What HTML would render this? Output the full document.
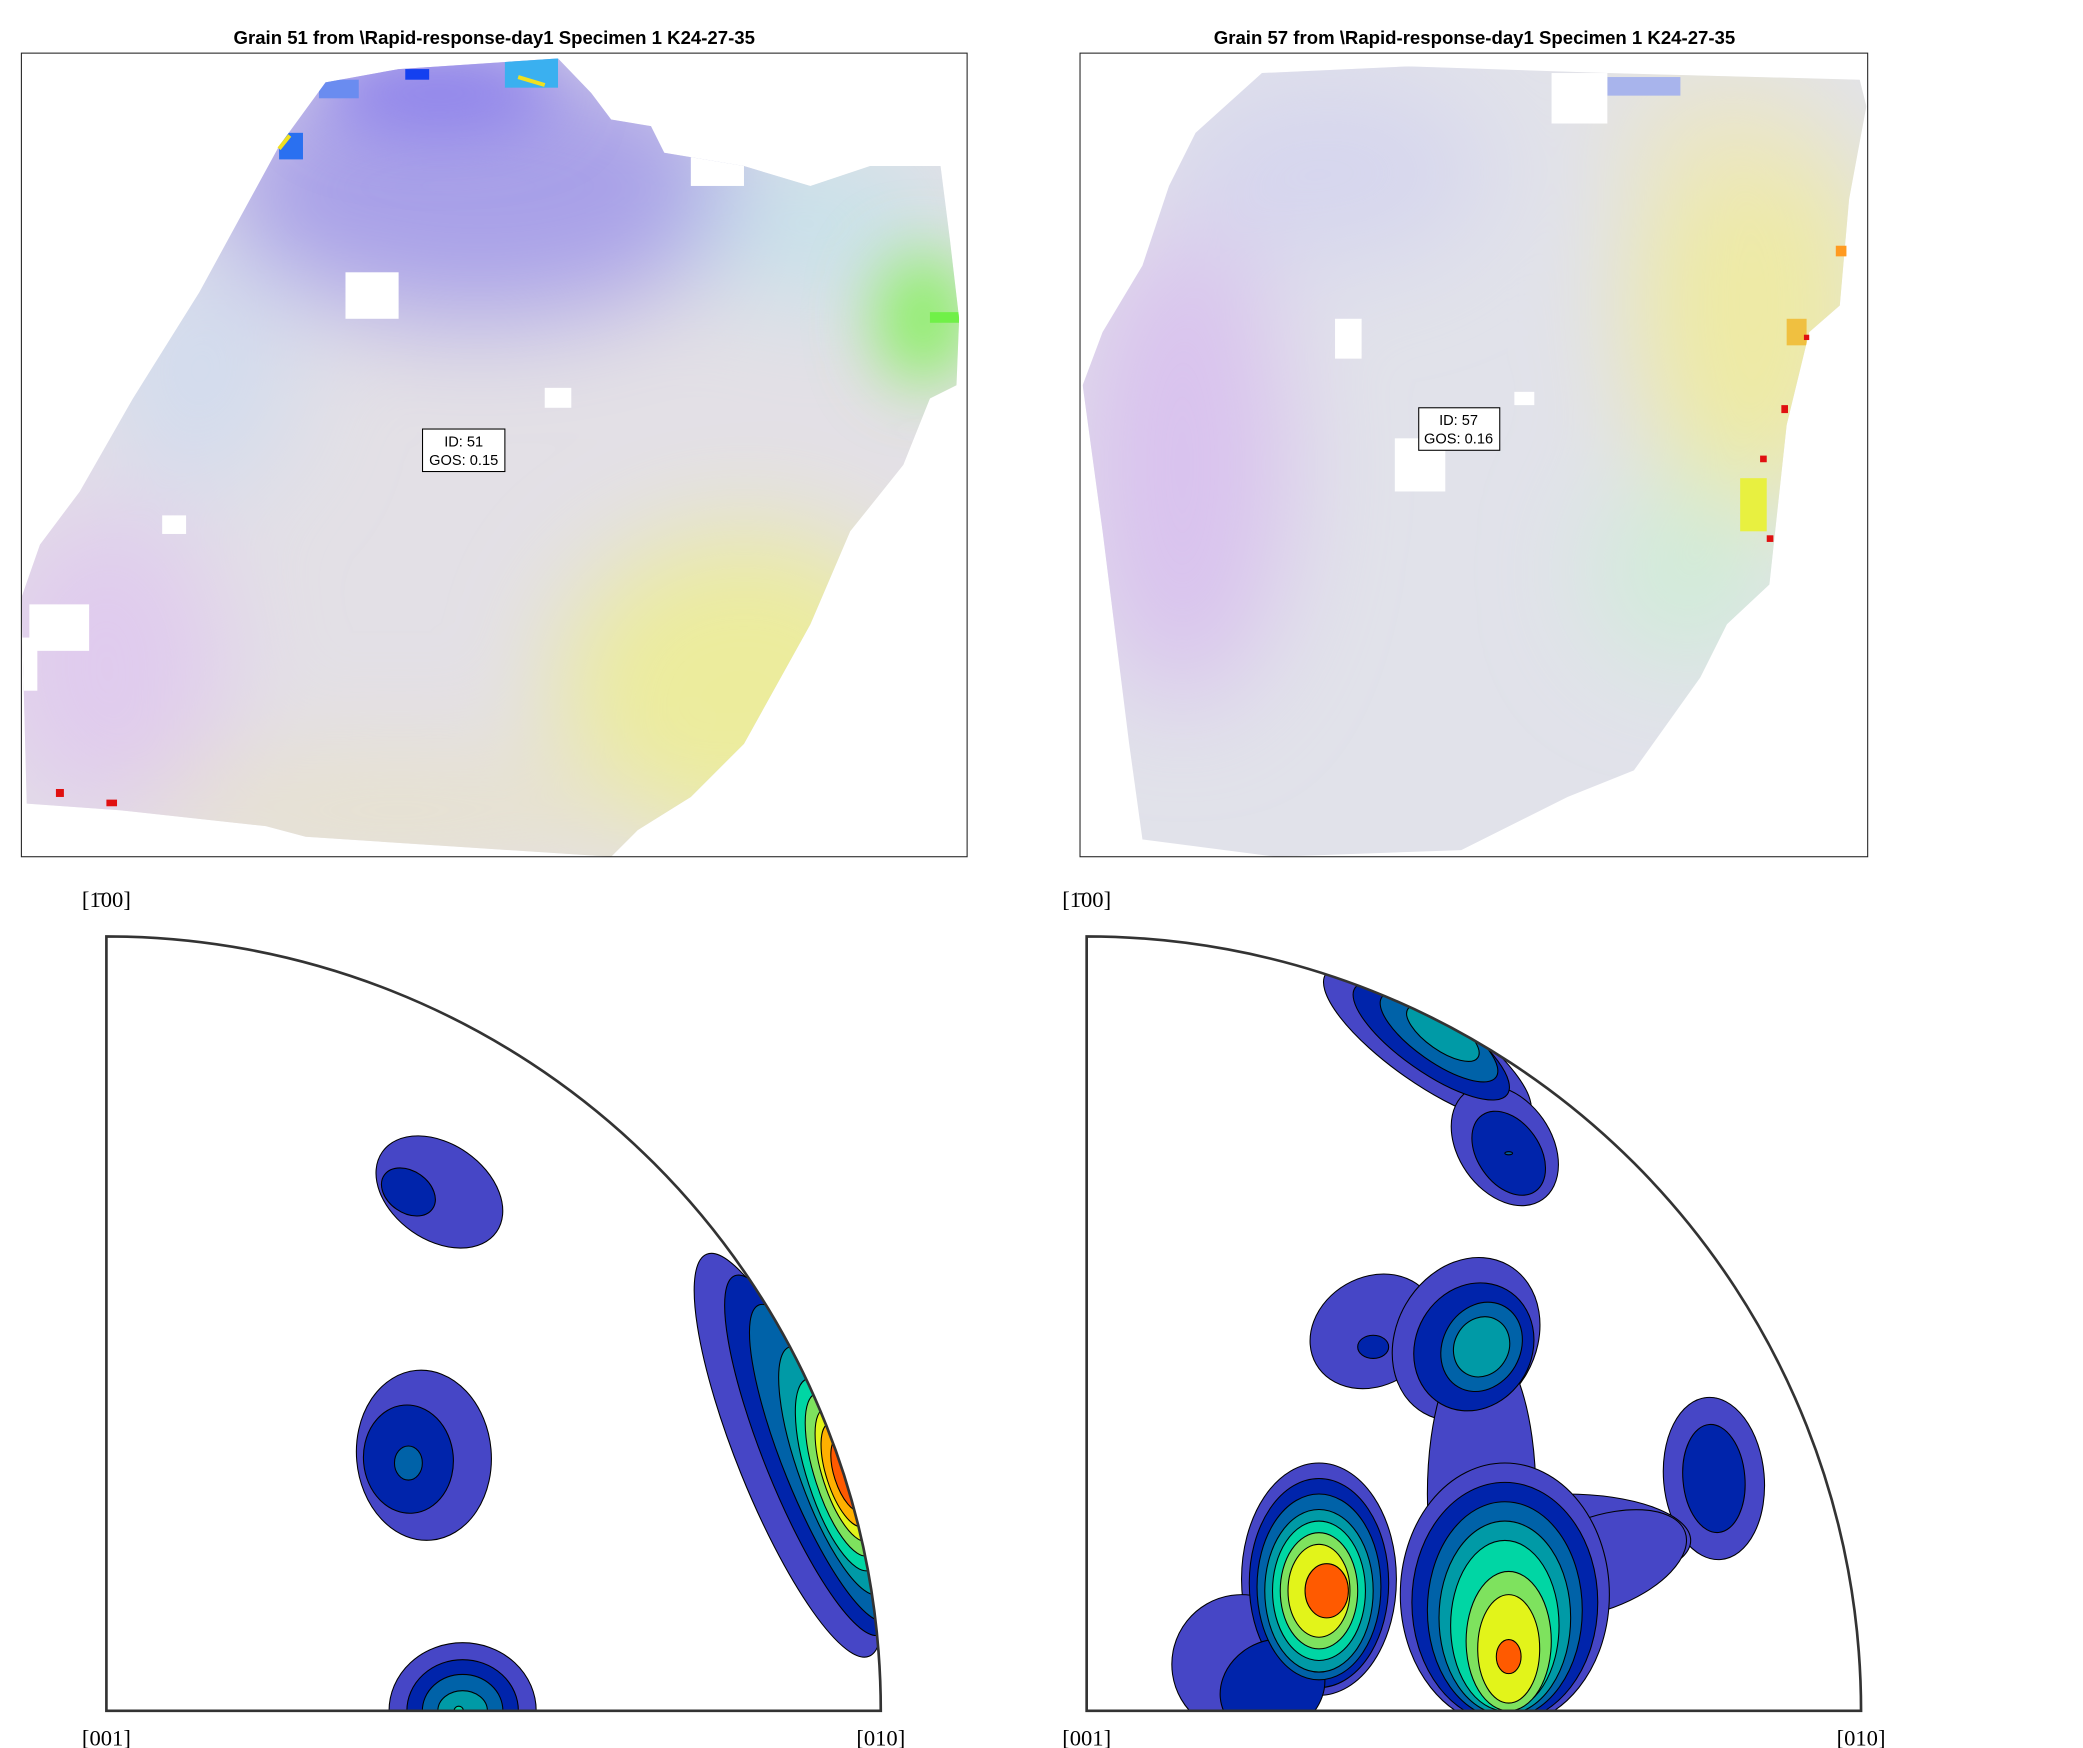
<!DOCTYPE html>
<html><head><meta charset="utf-8">
<style>
html,body{margin:0;padding:0;background:#fff;}
svg{display:block;}
text{font-family:"Liberation Sans",sans-serif;}
.ser{font-family:"Liberation Serif",serif;font-size:17px;}
</style></head>
<body>
<svg id="fig" width="2083" height="1748" viewBox="0 0 1568 1316" xmlns="http://www.w3.org/2000/svg">
<defs>
  <clipPath id="clipL"><polygon points="245,62 300,52 420,44 445,70 460,90 490,95 500,115 560,125 610,140 655,125 708,125 715,180 722,240 720,290 700,300 680,350 640,400 610,470 560,560 520,600 480,625 460,645 230,630 200,622 90,610 20,605 16,450 30,410 60,370 100,300 150,220 180,165 210,110"/></clipPath>
  <clipPath id="clipR"><polygon points="900,100 950,55 1060,50 1210,55 1400,60 1405,80 1392,150 1385,230 1362,250 1345,320 1332,440 1300,470 1280,510 1230,580 1180,600 1100,640 960,645 860,632 850,560 830,400 815,290 830,250 860,200 880,140"/></clipPath>
  <filter id="blur" x="-50%" y="-50%" width="200%" height="200%"><feGaussianBlur stdDeviation="40"/></filter>
  <filter id="blur2" x="-50%" y="-50%" width="200%" height="200%"><feGaussianBlur stdDeviation="25"/></filter>
</defs>

<text x="372" y="33" font-size="14" font-weight="bold" text-anchor="middle">Grain 51 from \Rapid-response-day1 Specimen 1 K24-27-35</text>
<text x="1110" y="33" font-size="14" font-weight="bold" text-anchor="middle">Grain 57 from \Rapid-response-day1 Specimen 1 K24-27-35</text>

<g>
  <g clip-path="url(#clipL)">
    <rect x="0" y="40" width="740" height="610" fill="#e3e0e6"/>
    <g filter="url(#blur)">
      <ellipse cx="360" cy="140" rx="200" ry="100" fill="#a8a0e8"/>
      <ellipse cx="560" cy="520" rx="140" ry="120" fill="#ecec9c"/>
      <ellipse cx="80" cy="500" rx="90" ry="120" fill="#e0cbee"/>
      <ellipse cx="620" cy="170" rx="90" ry="60" fill="#c8e2ea"/>
      <ellipse cx="150" cy="280" rx="70" ry="90" fill="#d2dcee"/>
      <ellipse cx="300" cy="610" rx="200" ry="40" fill="#e8e2cc"/>
    </g>
    <g filter="url(#blur2)">
      <ellipse cx="695" cy="240" rx="35" ry="50" fill="#88f060"/>
      <ellipse cx="330" cy="70" rx="90" ry="30" fill="#8c80ec"/>
    </g>
    <rect x="240" y="60" width="30" height="14" fill="#6a8cf0"/>
    <rect x="305" y="52" width="18" height="8" fill="#1440f0"/>
    <rect x="380" y="44" width="40" height="22" fill="#3ab0f0"/>
    <rect x="210" y="100" width="18" height="20" fill="#2a70f0"/>
    <rect x="700" y="235" width="22" height="8" fill="#70f048"/>
    <rect x="260" y="205" width="40" height="35" fill="#fff"/>
    <rect x="410" y="292" width="20" height="15" fill="#fff"/>
    <rect x="122" y="388" width="18" height="14" fill="#fff"/>
    <rect x="22" y="455" width="45" height="35" fill="#fff"/>
    <rect x="16" y="480" width="12" height="40" fill="#fff"/>
    <rect x="520" y="118" width="40" height="22" fill="#fff"/>
  </g>
  <path d="M390,58 L410,64" stroke="#f0e020" stroke-width="3"/>
  <path d="M210,112 L218,102" stroke="#f0e020" stroke-width="3"/>
  <rect x="42" y="594" width="6" height="6" fill="#e01010"/>
  <rect x="80" y="602" width="8" height="5" fill="#e01010"/>
  <rect x="16" y="40" width="712" height="605" fill="none" stroke="#222" stroke-width="0.8"/>
  <g>
    <rect x="318" y="323" width="62" height="32" fill="#fff" stroke="#000" stroke-width="0.8"/>
    <text x="349" y="336" font-size="11" text-anchor="middle">ID: 51</text>
    <text x="349" y="350" font-size="11" text-anchor="middle">GOS: 0.15</text>
  </g>
</g>

<g>
  <g clip-path="url(#clipR)">
    <rect x="800" y="40" width="620" height="610" fill="#e1e2ea"/>
    <g filter="url(#blur)">
      <ellipse cx="890" cy="350" rx="80" ry="180" fill="#d9c2ee"/>
      <ellipse cx="1320" cy="230" rx="90" ry="160" fill="#eeeaa4"/>
      <ellipse cx="1270" cy="430" rx="70" ry="70" fill="#d0ecd8"/>
      <ellipse cx="1000" cy="130" rx="120" ry="70" fill="#d6d6ee"/>
      <ellipse cx="1300" cy="100" rx="80" ry="40" fill="#ece6c4"/>
    </g>
    <rect x="1210" y="58" width="55" height="14" fill="#a8b4ec"/>
    <rect x="1168" y="55" width="42" height="38" fill="#fff"/>
    <rect x="1050" y="330" width="38" height="40" fill="#fff"/>
    <rect x="1140" y="295" width="15" height="10" fill="#fff"/>
    <rect x="1005" y="240" width="20" height="30" fill="#fff"/>
    <rect x="1310" y="360" width="20" height="40" fill="#e8f040"/>
    <rect x="1345" y="240" width="15" height="20" fill="#f0c040"/>
  </g>
  <rect x="1358" y="252" width="4" height="4" fill="#e01010"/>
  <rect x="1341" y="305" width="5" height="6" fill="#e01010"/>
  <rect x="1325" y="343" width="5" height="5" fill="#e01010"/>
  <rect x="1330" y="403" width="5" height="5" fill="#e01010"/>
  <rect x="1382" y="185" width="8" height="8" fill="#ff9a20"/>
  <rect x="813" y="40" width="593" height="605" fill="none" stroke="#222" stroke-width="0.8"/>
  <g>
    <rect x="1068" y="307" width="61" height="32" fill="#fff" stroke="#000" stroke-width="0.8"/>
    <text x="1098" y="320" font-size="11" text-anchor="middle">ID: 57</text>
    <text x="1098" y="334" font-size="11" text-anchor="middle">GOS: 0.16</text>
  </g>
</g>

<g id="ipfL"></g>
<g id="ipfR"></g>
</svg>
<script>
const levelColors = ["#4646c6","#0024ab","#0062a8","#009aa6","#00d6a4","#7ee25e","#e2f41a","#ffb000","#ff5a00"];
// Left IPF blobs
const leftCx  = [0.43,0.39,0.41, 0.39,0.39, 0.46,0.46,0.46,0.46,0.455, 0.88,0.905,0.925,0.94,0.945,0.95,0.955,0.955,0.96];
const leftCy  = [0.67,0.67,0.33, 0.325,0.32, 0.0,0.0,0.0,0.0,0.0, 0.33,0.33,0.32,0.31,0.305,0.305,0.305,0.305,0.305];
const leftRx  = [0.09,0.038,0.087, 0.058,0.018, 0.095,0.072,0.052,0.032,0.006, 0.28,0.25,0.22,0.17,0.13,0.11,0.09,0.07,0.05];
const leftRy  = [0.062,0.027,0.11, 0.07,0.022, 0.088,0.066,0.047,0.026,0.006, 0.065,0.055,0.05,0.045,0.04,0.035,0.03,0.025,0.02];
const leftRot = [35,35,-5, -5,0, 0,0,0,0,0, 68,68,68,70,72,72,72,72,72];
const leftLvl = [1,2,1, 2,3, 1,2,3,4,5, 1,2,3,4,5,6,7,8,9];
// Right IPF blobs
const rightCx  = [0.44,0.445,0.455,0.46, 0.54,0.545,0.545, 0.37,0.49,0.5,0.37,0.51,0.51, 0.81,0.81, 0.51,0.62,0.66, 0.30,0.30,0.30,0.30,0.30,0.30,0.30,0.31, 0.54,0.54,0.54,0.54,0.54,0.545,0.545,0.545, 0.20,0.24];
const rightCy  = [0.86,0.865,0.87,0.875, 0.73,0.72,0.72, 0.49,0.48,0.47,0.47,0.47,0.47, 0.30,0.30, 0.28,0.22,0.19, 0.17,0.165,0.16,0.155,0.155,0.155,0.155,0.155, 0.15,0.14,0.13,0.12,0.11,0.09,0.08,0.07, 0.06,0.03];
const rightRx  = [0.16,0.12,0.09,0.055, 0.085,0.06,0.005, 0.085,0.11,0.085,0.02,0.06,0.04, 0.065,0.04, 0.07,0.16,0.12, 0.10,0.09,0.08,0.07,0.06,0.05,0.04,0.028, 0.135,0.12,0.1,0.085,0.07,0.055,0.04,0.016, 0.09,0.07];
const rightRy  = [0.05,0.04,0.032,0.022, 0.06,0.04,0.002, 0.07,0.09,0.075,0.015,0.05,0.035, 0.105,0.07, 0.2,0.06,0.06, 0.15,0.135,0.12,0.105,0.09,0.075,0.06,0.035, 0.17,0.155,0.14,0.125,0.11,0.09,0.07,0.022, 0.09,0.06];
const rightRot = [35,35,35,35, 55,55,0, -30,-60,-60,0,-60,-60, -5,-5, 0,0,-20, 0,0,0,0,0,0,0,0, 0,0,0,0,0,0,0,0, -30,-30];
const rightLvl = [1,2,3,4, 1,2,3, 1,1,2,2,3,4, 1,2, 1,1,1, 1,2,3,4,5,6,7,9, 1,2,3,4,5,6,7,9, 1,2];
const NS = "http://www.w3.org/2000/svg";
const R = 583;
function drawIPF(gid, ox, oy, cx, cy, rx, ry, rot, lvl, clipId, side){
  const g = document.getElementById(gid);
  const sx = u => ox + u*R, sy = v => oy - v*R;
  const defs = document.querySelector('defs');
  const cp = document.createElementNS(NS,'clipPath'); cp.setAttribute('id', clipId);
  const cpp = document.createElementNS(NS,'path');
  cpp.setAttribute('d', `M${ox},${oy} L${ox},${oy-R} A${R},${R} 0 0 1 ${ox+R},${oy} Z`);
  cp.appendChild(cpp); defs.appendChild(cp);
  const cg = document.createElementNS(NS,'g'); cg.setAttribute('clip-path',`url(#${clipId})`);
  g.appendChild(cg);
  const maxL = Math.max(...lvl);
  for(let L=1; L<=maxL; L++){
    for(let i=0;i<cx.length;i++){
      if(lvl[i]!==L || rx[i]<=0) continue;
      const e = document.createElementNS(NS,'ellipse');
      
      
      e.setAttribute('cx', sx(cx[i])); e.setAttribute('cy', sy(cy[i]));
      e.setAttribute('rx', rx[i]*R); e.setAttribute('ry', ry[i]*R);
      e.setAttribute('transform', `rotate(${rot[i]} ${sx(cx[i])} ${sy(cy[i])})`);
      e.setAttribute('fill', levelColors[L-1]); e.setAttribute('stroke','#000'); e.setAttribute('stroke-width','0.8');
      cg.appendChild(e);
    }
  }
  const b = document.createElementNS(NS,'path');
  
  
  b.setAttribute('d', `M${ox},${oy} L${ox},${oy-R} A${R},${R} 0 0 1 ${ox+R},${oy} Z`);
  b.setAttribute('fill','none'); b.setAttribute('stroke','#333'); b.setAttribute('stroke-width','2');
  g.appendChild(b);
  const labels = [["[\u0031\u0304" + "00]", ox, oy-R-22, 'top'], ["[001]", ox, oy+26, 'origin'], ["[010]", ox+R, oy+26, 'right']];
  for(const l of labels){
    const t = document.createElementNS(NS,'text');
    
    
    t.setAttribute('x', l[1]); t.setAttribute('y', l[2]); t.setAttribute('text-anchor','middle');
    t.setAttribute('class','ser'); t.textContent = l[0];
    g.appendChild(t);
  }
}
drawIPF('ipfL', 80, 1288, leftCx, leftCy, leftRx, leftRy, leftRot, leftLvl, 'clipIL', 'left');
drawIPF('ipfR', 818, 1288, rightCx, rightCy, rightRx, rightRy, rightRot, rightLvl, 'clipIR', 'right');
</script>
</body></html>
